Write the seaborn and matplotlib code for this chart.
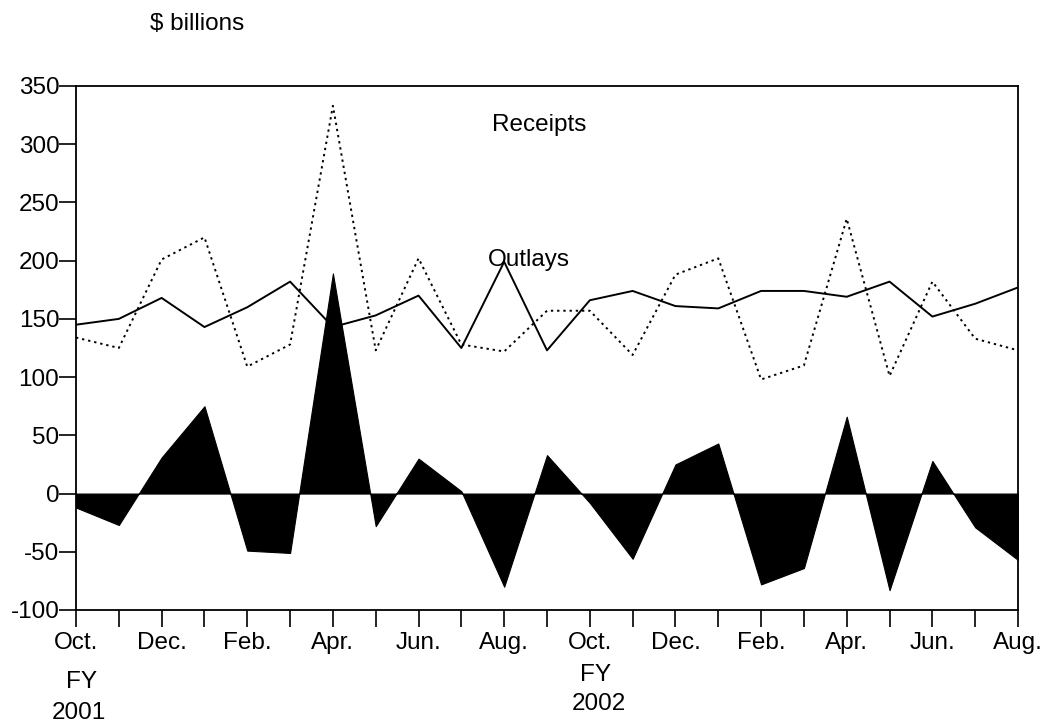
import matplotlib
matplotlib.use("Agg")
import matplotlib.pyplot as plt
import seaborn as sns
import pandas as pd
import numpy as np

# Months Oct FY2001 .. Aug FY2002
months = ["Oct.", "Nov.", "Dec.", "Jan.", "Feb.", "Mar.", "Apr.", "May", "Jun.", "Jul.", "Aug.", "Sep.",
          "Oct.", "Nov.", "Dec.", "Jan.", "Feb.", "Mar.", "Apr.", "May", "Jun.", "Jul.", "Aug."]
outlays = [145, 150, 168, 143, 160, 182, 143, 153, 170, 125, 199, 123,
           166, 174, 161, 159, 174, 174, 169, 182, 152, 163, 177]
receipts = [134, 125, 201, 220, 109, 128, 333, 123, 202, 128, 122, 157,
            157, 119, 188, 202, 98, 110, 236, 101, 182, 133, 123]
surplus = [-12, -27, 31, 75, -49, -51, 189, -28, 30, 2, -80, 33,
           -8, -56, 25, 43, -78, -64, 66, -83, 28, -29, -57]
yticks = [-100, -50, 0, 50, 100, 150, 200, 250, 300, 350]

sns.set_style("ticks")
plt.rcParams['font.family'] = ['Liberation Sans', 'DejaVu Sans']
plt.rcParams['text.color'] = 'black'

FS = 17.5

idx = list(range(len(months)))
df = pd.DataFrame({"idx": idx, "Outlays": outlays, "Receipts": receipts, "Surplus": surplus})

fig = plt.figure(figsize=(10.44, 7.24), dpi=100)
ax = fig.add_axes([76/1044, 1 - 610/724, (1018 - 76)/1044, (610 - 86)/724])

ax.fill_between(df["idx"], df["Surplus"], 0, color="black", linewidth=0.8, edgecolor="black", interpolate=True)
sns.lineplot(data=df, x="idx", y="Outlays", ax=ax, color="black", linewidth=1.4)
sns.lineplot(data=df, x="idx", y="Receipts", ax=ax, color="black", linewidth=1.4, linestyle=(0, (1.2, 2.0)))

ax.set_xlim(0, len(months) - 1)
ax.set_ylim(-100, 350)
ax.set_xticks(idx)
ax.set_xticklabels([m if i % 2 == 0 else "" for i, m in enumerate(months)])
ax.set_yticks(yticks)
ax.set_yticklabels([str(v) for v in yticks])
ax.set_xlabel("")
ax.set_ylabel("")
for s in ax.spines.values():
    s.set_linewidth(1.3)
    s.set_color("black")
ax.tick_params(axis="both", direction="out", length=12, width=1.2, colors="black",
               labelsize=FS, pad=3)
ax.tick_params(axis="x", pad=4)
ax.tick_params(axis="y", pad=0)

ax.text(0.442, 0.925, "Receipts", transform=ax.transAxes, fontsize=FS, ha="left", va="center")
ax.text(0.437, 0.667, "Outlays", transform=ax.transAxes, fontsize=FS, ha="left", va="center")

fig.text(150/1044, 1 - 24/724, "$ billions", fontsize=FS, ha="left", va="center")
fig.text(82/1044, 1 - 682/724, "FY", fontsize=FS, ha="center", va="center")
fig.text(79/1044, 1 - 713/724, "2001", fontsize=FS, ha="center", va="center")
fig.text(596/1044, 1 - 675/724, "FY", fontsize=FS, ha="center", va="center")
fig.text(599/1044, 1 - 704/724, "2002", fontsize=FS, ha="center", va="center")

fig.savefig("out.png", dpi=100)
